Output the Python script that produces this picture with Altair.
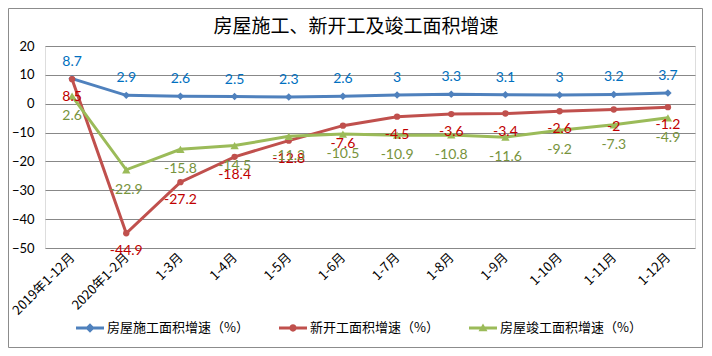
import altair as alt
import pandas as pd

categories = ["2019年1-12月", "2020年1-2月", "1-3月", "1-4月", "1-5月", "1-6月",
              "1-7月", "1-8月", "1-9月", "1-10月", "1-11月", "1-12月"]
construction = [8.7, 2.9, 2.6, 2.5, 2.3, 2.6, 3, 3.3, 3.1, 3, 3.2, 3.7]
new_starts = [8.5, -44.9, -27.2, -18.4, -12.8, -7.6, -4.5, -3.6, -3.4, -2.6, -2, -1.2]
completed = [2.6, -22.9, -15.8, -14.5, -11.3, -10.5, -10.9, -10.8, -11.6, -9.2, -7.3, -4.9]
series_names = ["房屋施工面积增速（%）", "新开工面积增速（%）", "房屋竣工面积增速（%）"]
y_ticks = [-50, -40, -30, -20, -10, 0, 10, 20]
title_text = "房屋施工、新开工及竣工面积增速"

line_colors = ["#4F81BD", "#C0504D", "#9BBB59"]
label_colors = ["#0070C0", "#C00000", "#77933C"]
marker_shapes = ["diamond", "circle", "triangle-up"]
marker_sizes = [55, 40, 70]
label_dy = [-17, 18, 20]
legend_paths = [
    "M-1,-0.1L1,-0.1L1,0.1L-1,0.1Z M0,-0.34L0.34,0L0,0.34L-0.34,0Z",
    "M-1,-0.1L1,-0.1L1,0.1L-1,0.1Z M-0.26,0A0.26,0.26 0 1,1 0.26,0A0.26,0.26 0 1,1 -0.26,0Z",
    "M-1,-0.1L1,-0.1L1,0.1L-1,0.1Z M0,-0.32L0.32,0.24L-0.32,0.24Z",
]

rows = []
for name, vals in zip(series_names, [construction, new_starts, completed]):
    for c, v in zip(categories, vals):
        rows.append({"cat": c, "series": name, "value": v, "label": f"{v:g}"})
df = pd.DataFrame(rows)

x_enc = alt.X("cat:N", sort=categories,
              scale=alt.Scale(type="point", domain=categories, padding=0.5),
              axis=alt.Axis(title=None, labelAngle=-45, labelFontSize=13,
                            labelFont="Noto Sans CJK SC", labelColor="#000",
                            labelPadding=7, domain=False, ticks=False, grid=False,
                            labelAlign="right", labelBaseline="middle"))
y_enc = alt.Y("value:Q",
              scale=alt.Scale(domain=[-50, 20], nice=False, zero=False),
              axis=alt.Axis(title=None, values=y_ticks, labelFontSize=13,
                            labelFont="Lato", labelColor="#000", labelPadding=11,
                            domain=False, ticks=False, grid=True,
                            gridColor="#888888", gridWidth=1))

base = alt.Chart(df)
layers = []

deco = alt.Chart(pd.DataFrame({"a": [0]}))
border = deco.mark_rect(
    fillOpacity=0, stroke="#8c8c8c", strokeWidth=1
).encode(x=alt.value(-36.5), x2=alt.value(657.5), y=alt.value(-37.5), y2=alt.value(301.5))
title = deco.mark_text(
    text=title_text, fontSize=19, font="Noto Sans CJK SC", color="#000",
    align="center", baseline="middle"
).encode(x=alt.value(311), y=alt.value(-19))

for i, name in enumerate(series_names):
    sub = base.transform_filter(alt.datum.series == name)
    layers.append(sub.mark_line(color=line_colors[i], strokeWidth=3).encode(x=x_enc, y=y_enc))
    layers.append(sub.mark_point(filled=True, opacity=1, color=line_colors[i],
                                 shape=marker_shapes[i], size=marker_sizes[i]).encode(x=x_enc, y=y_enc))

for i, name in enumerate(series_names):
    sub = base.transform_filter(alt.datum.series == name)
    layers.append(sub.mark_text(color=label_colors[i], fontSize=14, font="Lato",
                                dy=label_dy[i]).encode(x=x_enc, y=y_enc, text="label:N"))

legend_layer = base.transform_filter(alt.datum.cat == categories[0]).mark_point(
    filled=True, opacity=1
).encode(
    x=alt.value(-3000), y=alt.value(-3000),
    color=alt.Color("series:N", scale=alt.Scale(domain=series_names, range=line_colors),
                    legend=alt.Legend(orient="none", legendX=31, legendY=268,
                                      direction="horizontal", title=None,
                                      symbolSize=784, symbolStrokeWidth=0,
                                      symbolOpacity=1, labelFont="Noto Sans CJK SC",
                                      labelFontSize=13, labelColor="#000",
                                      labelOffset=3, columnPadding=30, padding=0)),
    shape=alt.Shape("series:N", scale=alt.Scale(domain=series_names, range=legend_paths)),
)

chart = alt.layer(border, title, *layers, legend_layer).properties(
    width=650, height=202,
    autosize=alt.AutoSizeParams(type="none"),
    padding={"left": 37, "top": 38, "right": 9, "bottom": 100},
).configure_view(stroke=None).configure(background="white")

chart.save("out.html", embed_options={"renderer": "svg", "actions": False})
